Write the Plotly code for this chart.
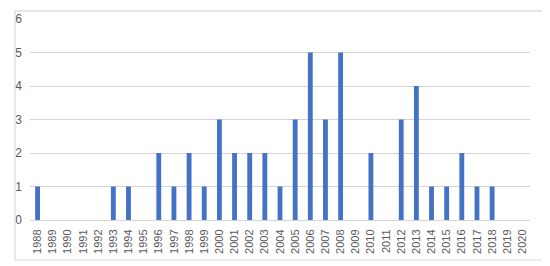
import plotly.graph_objects as go

years = [str(y) for y in range(1988, 2021)]
counts = [1, 0, 0, 0, 0, 1, 1, 0, 2, 1, 2, 1, 3, 2, 2, 2, 1, 3, 5, 3, 5,
          0, 2, 0, 3, 4, 1, 1, 2, 1, 1, 0, 0]

# the page body keeps its default 8px margin, so the figure is 8px
# smaller than the window and everything is placed 8px up/left
fig = go.Figure()
fig.add_trace(go.Bar(x=years, y=counts, marker_color="#4472C4",
                     marker_line_width=0))

fig.update_layout(
    width=542, height=258,
    margin=dict(l=22, r=20, t=11, b=46, autoexpand=False),
    paper_bgcolor="white", plot_bgcolor="white",
    bargap=0.68, showlegend=False,
    font=dict(family="Liberation Sans", size=12, color="#595959"),
)
fig.update_xaxes(type="category", tickangle=-90, showgrid=False,
                 showline=True, linecolor="#d4d4d4", ticks="",
                 tickfont=dict(size=11), automargin=False,
                 ticklabelstandoff=4)
fig.update_yaxes(range=[0, 6], dtick=1, showgrid=True, gridcolor="#d4d4d4",
                 gridwidth=1, showline=False, zeroline=False, ticks="",
                 automargin=False, ticklabelstandoff=7)

# outer chart border (left/top edges fall just outside the page area)
fig.add_shape(type="rect", xref="paper", yref="paper",
              x0=-0.03, x1=1.028, y0=-0.199, y1=1.04,
              line=dict(color="#d9d9d9", width=1.2))

fig.write_html("out.html", config={"displayModeBar": False})
